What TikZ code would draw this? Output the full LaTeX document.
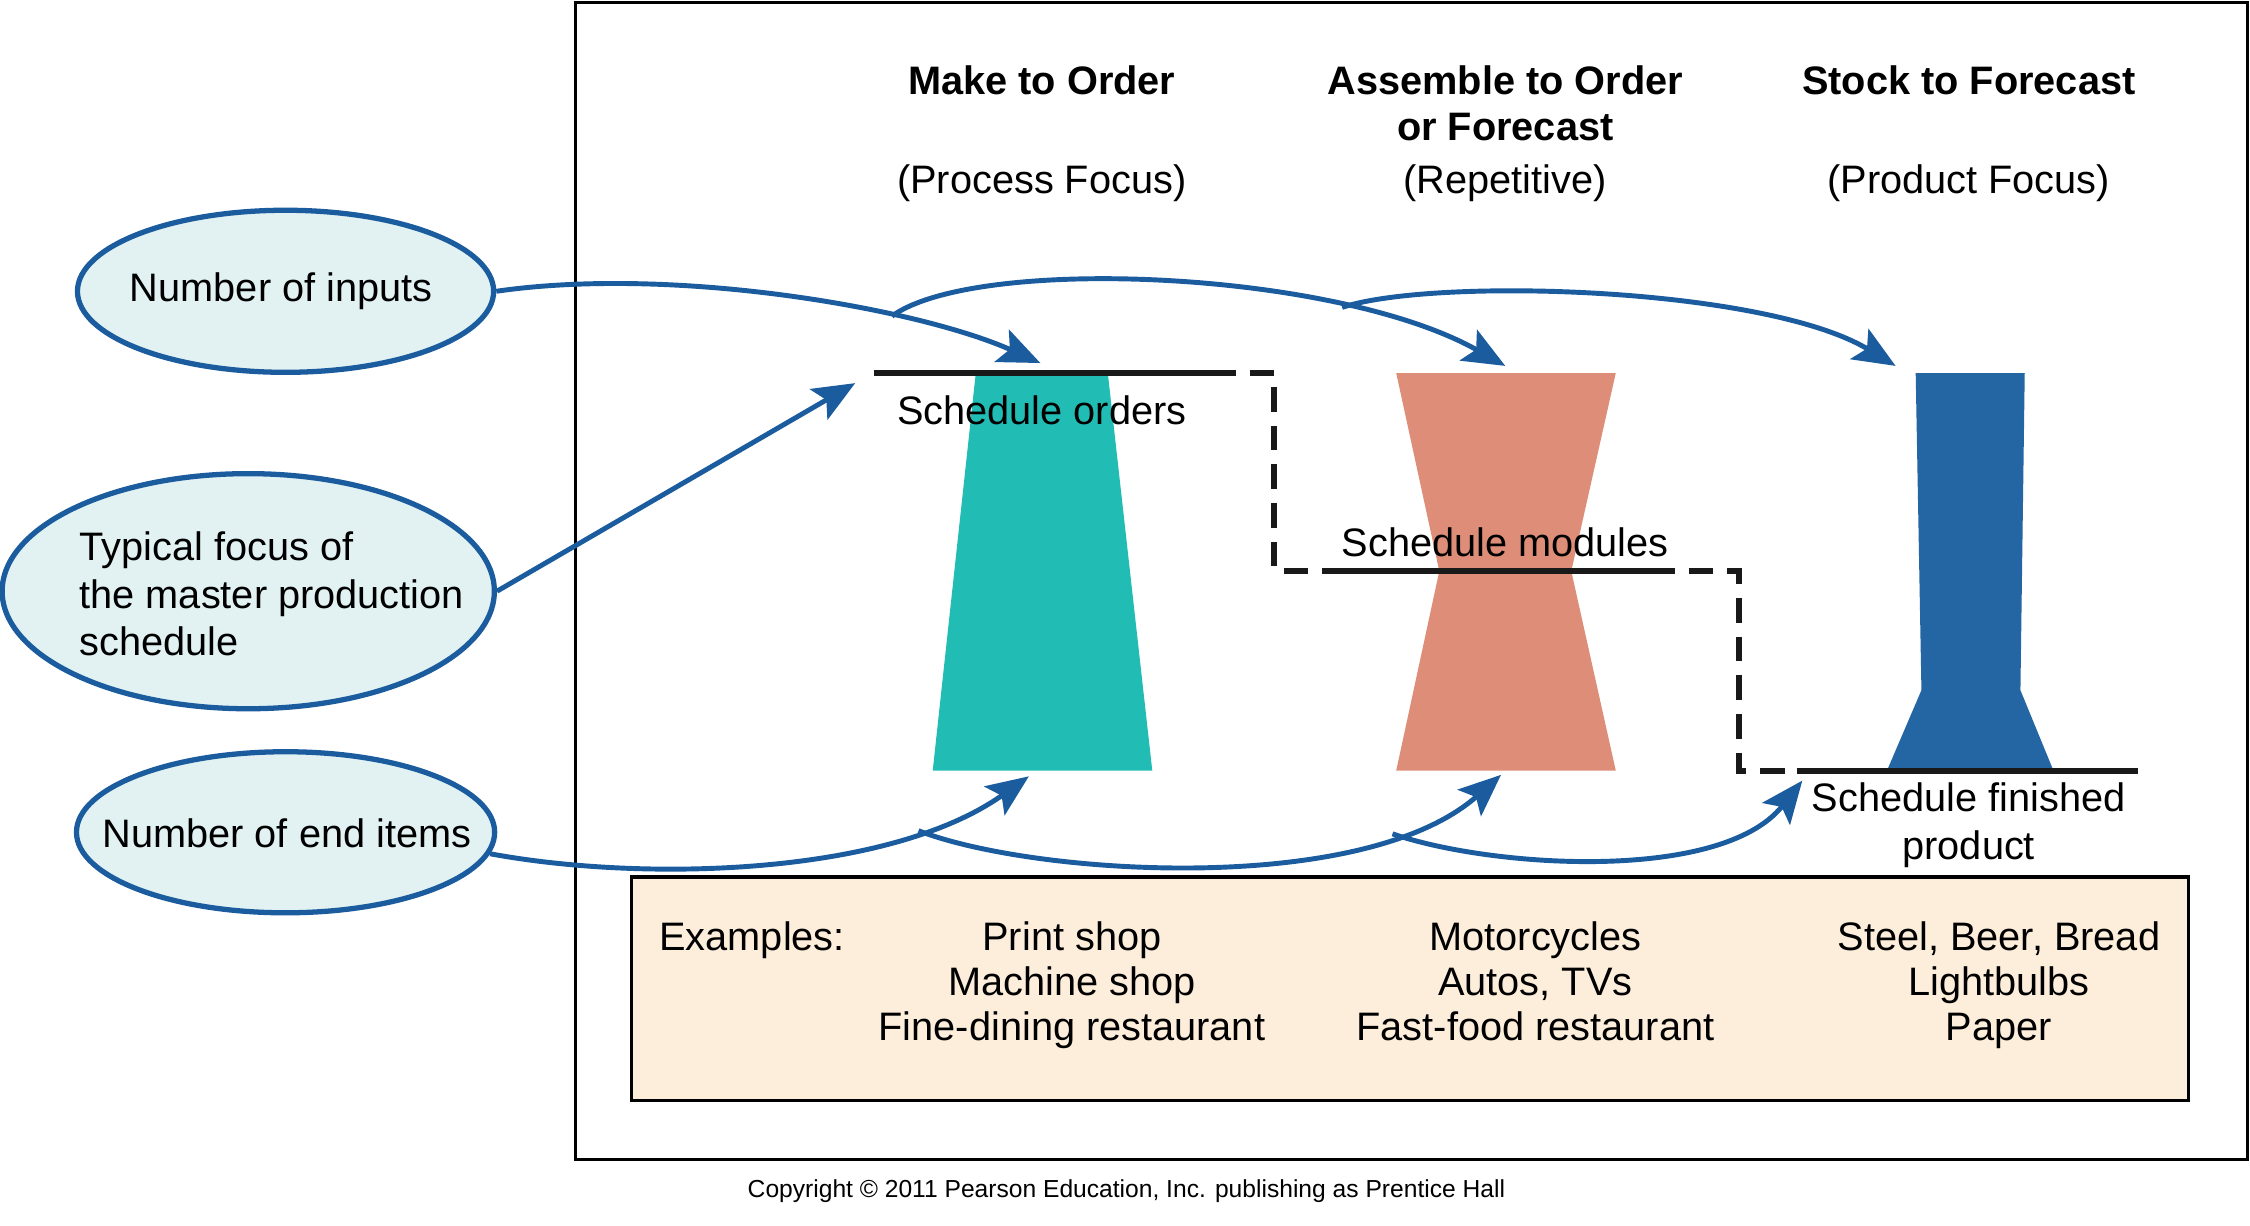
\documentclass[tikz,border=0pt]{standalone}
\usepackage{fontspec}
\setmainfont{Liberation Sans}
\usepackage{tikz}
\usetikzlibrary{shapes.geometric,arrows.meta}

\definecolor{ordercol}{HTML}{21BDB5}
\definecolor{modulecol}{HTML}{DE8E78}
\definecolor{stockcol}{HTML}{2366A3}
\definecolor{flowblue}{HTML}{1B5C9E}
\definecolor{ovalfill}{HTML}{E2F2F3}
\definecolor{examplefill}{HTML}{FDEEDC}

\begin{document}
\begin{tikzpicture}[x=0.01435cm,y=-0.01435cm,font=\fontsize{11.3}{13.5}\selectfont]
            \tikzstyle{oval}=[ellipse,draw=flowblue,line width=1.5pt,fill=ovalfill,inner sep=0pt]
            \tikzstyle{flow}=[draw=flowblue,line width=1.4pt,-{Stealth[length=12pt,width=10pt,inset=2.5pt]}]
            \tikzstyle{schedline}=[line width=1.7pt,black!90]
            \tikzstyle{scheddash}=[schedline,dash pattern=on 7pt off 4pt,dash phase=7pt]
            \tikzstyle{example}=[anchor=north,align=center,font=\fontsize{11.3}{12.7}\selectfont]
            \useasboundingbox (0,0) rectangle (1568,854.3);

            % frame and examples box
            \draw[line width=0.8pt] (401,1.5) rectangle (1566,808);
            \draw[line width=1pt,fill=examplefill] (440,611) rectangle (1525,767);

            % column heads
            \foreach \num/\x/\head/\sub in {1/726/{Make to Order}/{(Process Focus)},
                                           2/1049/{Assemble to Order\\or Forecast}/{(Repetitive)},
                                           3/1372/{Stock to Forecast}/{(Product Focus)}}
            {
                \node[anchor=north,align=center,font=\fontsize{11.3}{13}\bfseries] (head-\num) at (\x,37) {\head};
                \node (sub-\num) at (\x,128) {\sub};
            }

            % shapes
            \fill[ordercol] (680,260) -- (772,260) -- (803,537) -- (650,537) -- cycle;
            \fill[modulecol] (973,260) -- (1126,260) -- (1095,398) -- (1126,537) -- (973,537) -- (1003,398) -- cycle;
            \fill[stockcol] (1335,260) -- (1411,260) -- (1408,481) -- (1431,537) -- (1315,537) -- (1339,481) -- cycle;

            % schedule levels
            \draw[schedline] (609,260) -- (861,260);
            \draw[scheddash] (861,260) -- (888,260) -- (888,398) -- (930,398);
            \draw[schedline] (930,398) -- (1167,398);
            \draw[scheddash] (1167,398) -- (1212,398) -- (1212,537) -- (1252,537);
            \draw[schedline] (1252,537) -- (1490,537);

            \node (sched-1) at (726,286) {Schedule orders};
            \node (sched-2) at (1049,378) {Schedule modules};
            \node[align=center] (sched-3) at (1372,575) {Schedule finished\\product};

            % left ovals
            \node[oval,minimum width=4.16cm,minimum height=1.62cm] (inputs) at (199,203) {};
            \node (inputs-txt) at (196,203) {Number of inputs};
            \node[oval,minimum width=4.92cm,minimum height=2.35cm] (focus) at (173,412) {};
            \node[anchor=west,align=left,inner sep=0pt] (focus-txt) at (55,414) {Typical focus of\\the master production\\schedule};
            \node[oval,minimum width=4.18cm,minimum height=1.61cm] (items) at (199,580) {};
            \node (items-txt) at (200,581) {Number of end items};

            \coordinate (tip-1) at (725,253);
            \coordinate (tip-2) at (1049,255);
            \coordinate (tip-3) at (1321,255);
            \coordinate (tip-4) at (596,267);
            \coordinate (tip-5) at (717,541);
            \coordinate (tip-6) at (1046,540);
            \coordinate (tip-7) at (1256,544);

            % inputs
            \draw[flow] (inputs.east) .. controls (470,185) and (640,215) .. coordinate[pos=0.68] (fork-1) (tip-1);
            \draw[flow] (fork-1) .. controls (680,178) and (930,188) .. coordinate[pos=0.74] (fork-2) (tip-2);
            \draw[flow] (fork-2) .. controls (1000,193) and (1230,200) .. (tip-3);

            % focus
            \draw[flow] (focus.east) -- (tip-4);

            % end items
            \draw[flow] (items.-6) .. controls (450,615) and (620,610) .. coordinate[pos=0.77] (fork-3) (tip-5);
            \draw[flow] (fork-3) .. controls (720,610) and (950,625) .. coordinate[pos=0.79] (fork-4) (tip-6);
            \draw[flow] (fork-4) .. controls (1040,605) and (1200,615) .. (tip-7);

            % examples
            \node[example,anchor=north west,inner xsep=0pt] (ex-label) at (459,634) {Examples:};
            \node[example] (ex-1) at (747,634) {Print shop\\Machine shop\\Fine-dining restaurant};
            \node[example] (ex-2) at (1070,634) {Motorcycles\\Autos, TVs\\Fast-food restaurant};
            \node[example] (ex-3) at (1393,634) {Steel, Beer, Bread\\Lightbulbs\\Paper};

            \node[font=\fontsize{7}{8}\selectfont] (copy) at (785,830) {Copyright \textcopyright{} 2011 Pearson Education, Inc. publishing as Prentice Hall};
        \end{tikzpicture}
\end{document}
